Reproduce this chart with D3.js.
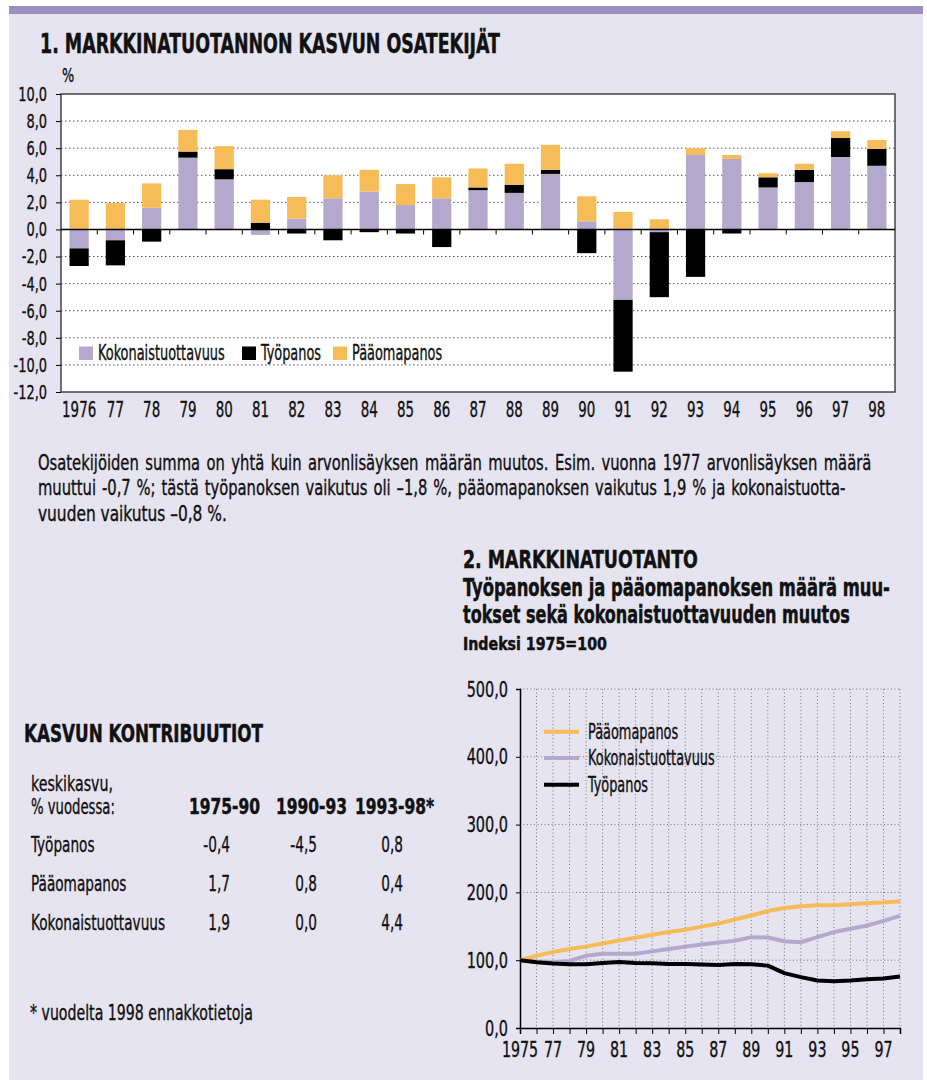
<!DOCTYPE html>
<html>
<head>
<meta charset="utf-8">
<script src="https://cdn.jsdelivr.net/npm/d3@7"></script>
<style>
  body { margin: 0; background: #fff; }
  svg text { font-family: "DejaVu Sans Condensed", "DejaVu Sans", sans-serif; font-stretch: condensed; fill: #111; stroke: #111; stroke-width: 0.35px; }
  svg text.b { stroke-width: 0.5px; }
</style>
</head>
<body>
<div id="chart"></div>
<script>
// chart 1: contributions, %-points
const years1 = ["1976","77","78","79","80","81","82","83","84","85","86","87","88","89","90","91","92","93","94","95","96","97","98"];
const kokonais = [-1.4, -0.8, 1.6, 5.3, 3.7, -0.4, 0.8, 2.3, 2.8, 1.8, 2.3, 2.9, 2.7, 4.1, 0.6, -5.2, -0.2, 5.5, 5.2, 3.1, 3.5, 5.35, 4.7];
const tyopanos = [-1.3, -1.85, -0.9, 0.45, 0.75, 0.5, -0.3, -0.8, -0.2, -0.3, -1.3, 0.2, 0.6, 0.3, -1.75, -5.3, -4.8, -3.5, -0.3, 0.75, 0.9, 1.4, 1.25];
const paaoma = [2.2, 1.95, 1.8, 1.6, 1.7, 1.7, 1.6, 1.7, 1.6, 1.55, 1.55, 1.4, 1.55, 1.85, 1.85, 1.3, 0.75, 0.5, 0.3, 0.3, 0.45, 0.5, 0.65];
const yTicks1 = [-12, -10, -8, -6, -4, -2, 0, 2, 4, 6, 8, 10];

// chart 2: index 1975=100
const years2 = [1975,1976,1977,1978,1979,1980,1981,1982,1983,1984,1985,1986,1987,1988,1989,1990,1991,1992,1993,1994,1995,1996,1997,1998];
const paaomaIdx = [100, 106.5, 112, 116.5, 120, 124.5, 129, 133, 137.5, 141.5, 145, 149.5, 154, 160, 166, 172.5, 177, 179.5, 181, 181, 182.5, 184, 185, 187];
const kokonaisIdx = [100, 98, 97, 99, 106.5, 109.5, 109.5, 109.5, 113, 116.5, 120, 123, 126, 128.5, 134, 133.5, 128, 126.5, 134, 141.5, 146.5, 151, 158, 165.5];
const tyoIdx = [100, 97, 95, 94, 94, 96, 97.5, 96, 95.5, 94.5, 94.5, 93.5, 93, 94.5, 94, 92, 81, 75, 70, 69, 70, 72, 73, 76];
const yTicks2 = [0, 100, 200, 300, 400, 500];
const xLabels2 = [1975, 1977, 1979, 1981, 1983, 1985, 1987, 1989, 1991, 1993, 1995, 1997];

// table
const periods = ["1975-90", "1990-93", "1993-98*"];
const rowNames = ["Työpanos", "Pääomapanos", "Kokonaistuottavuus"];
const rowValues = [["-0,4", "-4,5", "0,8"], ["1,7", "0,8", "0,4"], ["1,9", "0,0", "4,4"]];

const colK = "#b4a9cc", colT = "#000", colP = "#f5bc57";
const fmt = v => v.toFixed(1).replace(".", ",");

// the original face is a very narrow one, so squeeze text horizontally round its x
function squeeze(sel, s) {
  sel.each(function () {
    const t = d3.select(this);
    const x = +t.attr("x") || 0;
    t.attr("transform", `translate(${x * (1 - s)},0) scale(${s},1)`);
  });
  return sel;
}
function fitTo(sel, w) {
  return squeeze(sel, w / sel.node().getComputedTextLength());
}
function justify(sel, w, s) {
  const nat = sel.node().getComputedTextLength();
  const spaces = (sel.text().match(/ /g) || []).length;
  sel.style("word-spacing", ((w / s - nat) / spaces) + "px");
  return squeeze(sel, s);
}
function label(x, y, size, txt, bold) {
  return svg.append("text").attr("x", x).attr("y", y).attr("font-size", size)
    .attr("font-weight", bold ? "bold" : null).attr("class", bold ? "b" : null).text(txt);
}

const svg = d3.select("#chart").append("svg").attr("width", 927).attr("height", 1080);

svg.append("rect").attr("x", 9).attr("y", 6).attr("width", 914).attr("height", 1074).attr("fill", "#e6e4f1");
svg.append("rect").attr("x", 9).attr("y", 6).attr("width", 914).attr("height", 8).attr("fill", "#9b8fc3");

fitTo(label(40, 53, 27, "1.  MARKKINATUOTANNON KASVUN OSATEKIJÄT", true), 460);
squeeze(label(62, 82, 19, "%"), 0.75);

// ---------- chart 1 ----------
const L1 = 61, R1 = 895, T1 = 94, B1 = 392;
const x1 = d3.scaleBand().domain(years1).range([L1, R1]).paddingInner(0.47).paddingOuter(0.235);
const y1 = d3.scaleLinear().domain([-12, 10]).range([B1, T1]);

svg.append("rect").attr("x", L1).attr("y", T1).attr("width", R1 - L1).attr("height", B1 - T1)
  .attr("fill", "#fff").attr("stroke", "#444").attr("stroke-width", 1.5);

svg.append("g").selectAll("line").data(yTicks1.filter(d => d !== 0 && d !== 10 && d !== -12)).join("line")
  .attr("x1", L1).attr("x2", R1).attr("y1", d => y1(d)).attr("y2", d => y1(d))
  .attr("stroke", "#555").attr("stroke-width", 1).attr("stroke-dasharray", "1.5,2.5");

const rows1 = years1.map((y, i) => ({ year: y, K: kokonais[i], T: tyopanos[i], P: paaoma[i] }));
const series = d3.stack().keys(["K", "T", "P"]).offset(d3.stackOffsetDiverging)(rows1);
const colors = { K: colK, T: colT, P: colP };

svg.append("g").selectAll("g").data(series).join("g").attr("fill", d => colors[d.key])
  .selectAll("rect").data(d => d).join("rect")
  .attr("x", d => x1(d.data.year)).attr("width", x1.bandwidth())
  .attr("y", d => y1(Math.max(d[0], d[1])))
  .attr("height", d => Math.abs(y1(d[0]) - y1(d[1])));

// zero line + category ticks
svg.append("line").attr("x1", L1).attr("x2", R1).attr("y1", y1(0)).attr("y2", y1(0))
  .attr("stroke", "#000").attr("stroke-width", 1.5);
const step = x1.step();
svg.append("g").selectAll("line").data(years1.slice(1)).join("line")
  .attr("x1", d => x1(d) - step * x1.paddingInner() / 2).attr("x2", d => x1(d) - step * x1.paddingInner() / 2)
  .attr("y1", y1(0)).attr("y2", y1(0) + 5).attr("stroke", "#000");

const yAxis1 = svg.append("g").attr("transform", `translate(${L1},0)`)
  .call(d3.axisLeft(y1).tickValues(yTicks1).tickSize(5).tickPadding(9).tickFormat(fmt));
yAxis1.select(".domain").remove();
squeeze(yAxis1.selectAll("text").attr("font-size", 20).attr("font-family", null).attr("fill", "#111"), 0.72);

const xAxis1 = svg.append("g").attr("transform", `translate(0,${B1})`)
  .call(d3.axisBottom(x1).tickSize(0).tickPadding(10));
xAxis1.select(".domain").remove();
squeeze(xAxis1.selectAll("text").attr("font-size", 21).attr("font-family", null).attr("fill", "#111"), 0.71);

// legend 1
const leg1 = [["Kokonaistuottavuus", colK, 79], ["Työpanos", colT, 242], ["Pääomapanos", colP, 333]];
leg1.forEach(([name, c, lx]) => {
  svg.append("rect").attr("x", lx).attr("y", 346.5).attr("width", 14).attr("height", 13.5).attr("fill", c);
  squeeze(label(lx + 19, 360, 20.5, name), 0.7);
});

// paragraph (justified in the original)
const para = [
  "Osatekijöiden summa on yhtä kuin arvonlisäyksen määrän muutos. Esim. vuonna 1977 arvonlisäyksen määrä",
  "muuttui -0,7 %; tästä työpanoksen vaikutus oli –1,8 %, pääomapanoksen vaikutus 1,9 % ja kokonaistuotta-",
  "vuuden vaikutus –0,8 %."
];
justify(label(38, 470, 20.5, para[0]), 834, 0.8);
justify(label(38, 495, 20.5, para[1]), 808, 0.8);
fitTo(label(38, 521, 20.5, para[2]), 189);

// chart 2 titles
fitTo(label(463, 568, 25, "2.  MARKKINATUOTANTO", true), 235);
fitTo(label(463, 596, 25, "Työpanoksen ja pääomapanoksen määrä muu-", true), 427);
fitTo(label(463, 623, 25, "tokset sekä kokonaistuottavuuden muutos", true), 387);
fitTo(label(463, 650, 18.5, "Indeksi 1975=100", true), 144);

// ---------- chart 2 ----------
const L2 = 520, R2 = 900, T2 = 689, B2 = 1028;
const x2 = d3.scaleLinear().domain([1975, 1998]).range([L2, R2]);
const y2 = d3.scaleLinear().domain([0, 500]).range([B2, T2]);

svg.append("g").selectAll("line").data(years2.slice(1)).join("line")
  .attr("x1", d => x2(d)).attr("x2", d => x2(d)).attr("y1", T2).attr("y2", B2)
  .attr("stroke", "#777").attr("stroke-dasharray", "1,2.5");
svg.append("g").selectAll("line").data(yTicks2.slice(1)).join("line")
  .attr("x1", L2).attr("x2", R2).attr("y1", d => y2(d)).attr("y2", d => y2(d))
  .attr("stroke", "#777").attr("stroke-dasharray", "1,2.5");

const yAxis2 = svg.append("g").attr("transform", `translate(${L2},0)`)
  .call(d3.axisLeft(y2).tickValues(yTicks2).tickSize(4).tickPadding(8).tickFormat(fmt));
yAxis2.select(".domain").attr("stroke-width", 1.5);
squeeze(yAxis2.selectAll("text").attr("font-size", 22).attr("font-family", null).attr("fill", "#111"), 0.73);

const xAxis2 = svg.append("g").attr("transform", `translate(0,${B2})`)
  .call(d3.axisBottom(x2).tickValues(years2).tickSize(6).tickFormat(() => ""));
xAxis2.select(".domain").attr("stroke-width", 1.5);
squeeze(svg.append("g").selectAll("text").data(xLabels2).join("text")
  .attr("x", d => x2(d)).attr("y", 1057).attr("text-anchor", "middle").attr("font-size", 22)
  .text(d => d === 1975 ? "1975" : String(d).slice(2)), 0.72);

const line2 = d3.line().x((d, i) => x2(years2[i])).y(d => y2(d));
[[kokonaisIdx, colK], [paaomaIdx, colP], [tyoIdx, colT]].forEach(([vals, c]) => {
  svg.append("path").datum(vals).attr("d", line2).attr("fill", "none")
    .attr("stroke", c).attr("stroke-width", 4).attr("stroke-linejoin", "round");
});

const leg2 = [["Pääomapanos", colP, 731.7], ["Kokonaistuottavuus", colK, 758], ["Työpanos", colT, 784.7]];
leg2.forEach(([name, c, ly]) => {
  svg.append("line").attr("x1", 544).attr("x2", 579).attr("y1", ly).attr("y2", ly)
    .attr("stroke", c).attr("stroke-width", 4);
  squeeze(label(588, ly + 7, 20.5, name), 0.7);
});

// ---------- table ----------
fitTo(label(24, 742.5, 25, "KASVUN KONTRIBUUTIOT", true), 239);
fitTo(label(31, 791, 21, "keskikasvu,"), 82);
fitTo(label(31, 814, 21, "% vuodessa:"), 84);
const headRight = [260, 347, 434];
const valRight = [230, 317, 403];
periods.forEach((p, j) => squeeze(label(headRight[j], 814, 21.5, p, true).attr("text-anchor", "end"), 0.8));
rowNames.forEach((n, i) => {
  const ry = 852.5 + i * 38.7;
  squeeze(label(31, ry, 22, n), 0.69);
  rowValues[i].forEach((v, j) => squeeze(label(valRight[j], ry, 22, v).attr("text-anchor", "end"), 0.69));
});
fitTo(label(30, 1020, 21.5, "* vuodelta 1998 ennakkotietoja"), 223);
</script>
</body>
</html>
